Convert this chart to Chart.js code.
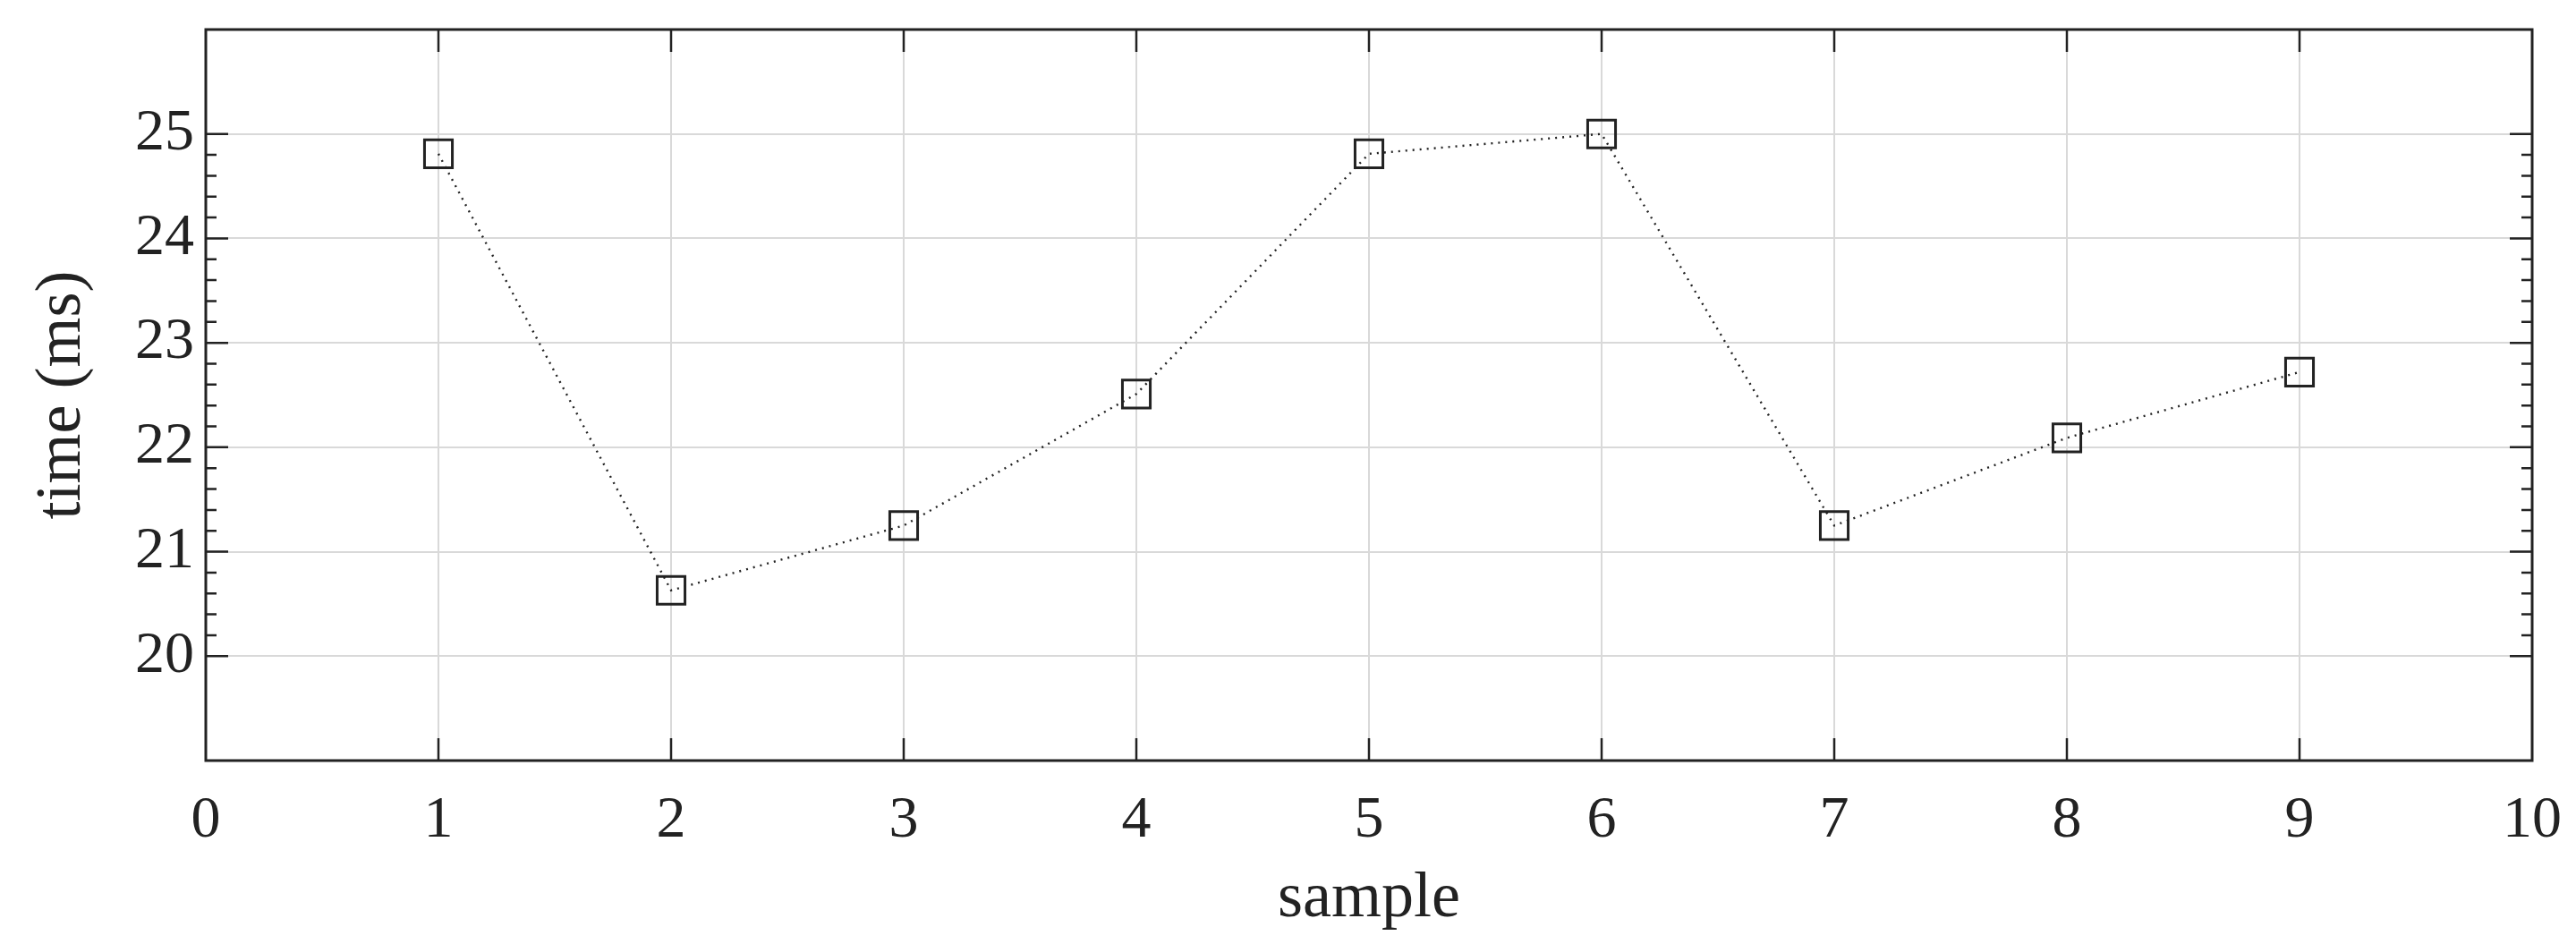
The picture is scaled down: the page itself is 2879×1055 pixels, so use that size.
<!DOCTYPE html>
<html>
<head>
<meta charset="utf-8">
<script src="https://cdn.jsdelivr.net/npm/chart.js@4/dist/chart.umd.min.js"></script>
<style>
  html, body { margin: 0; padding: 0; background: #fff; }
  #wrap { width: 2879px; height: 1055px; }
</style>
</head>
<body>
<div id="wrap"><canvas id="timeChart" width="2879" height="1055"></canvas></div>
<script>
// sample index and measured time (ms)
const samples = [1, 2, 3, 4, 5, 6, 7, 8, 9];
const times = [24.81, 20.63, 21.25, 22.51, 24.81, 25.0, 21.25, 22.09, 22.72];

const yMajorTicks = [20, 21, 22, 23, 24, 25];
const xMajorTicks = [1, 2, 3, 4, 5, 6, 7, 8, 9];

const ink = '#222';
const serif = '"Liberation Serif", "DejaVu Serif", serif';

// draws the axis box plus the inward tick marks (matlab style)
const boxTicks = {
  id: 'boxTicks',
  afterDraw(chart) {
    const { ctx, chartArea: a, scales } = chart;
    const x = scales.x, y = scales.y;
    ctx.save();
    ctx.strokeStyle = ink;
    ctx.lineWidth = 2.5;
    ctx.beginPath();

    yMajorTicks.forEach(v => {
      const py = y.getPixelForValue(v);
      ctx.moveTo(a.left, py); ctx.lineTo(a.left + 25, py);
      ctx.moveTo(a.right, py); ctx.lineTo(a.right - 25, py);
    });
    // minor ticks every 0.2 between the labelled ones
    for (let i = 0; i < yMajorTicks.length - 1; i++) {
      for (let k = 1; k < 5; k++) {
        const py = y.getPixelForValue(yMajorTicks[i] + k * 0.2);
        ctx.moveTo(a.left, py); ctx.lineTo(a.left + 12, py);
        ctx.moveTo(a.right, py); ctx.lineTo(a.right - 12, py);
      }
    }
    xMajorTicks.forEach(v => {
      const px = x.getPixelForValue(v);
      ctx.moveTo(px, a.bottom); ctx.lineTo(px, a.bottom - 25);
      ctx.moveTo(px, a.top); ctx.lineTo(px, a.top + 25);
    });
    ctx.stroke();

    ctx.lineWidth = 3;
    ctx.strokeRect(a.left, a.top, a.right - a.left, a.bottom - a.top);
    ctx.restore();
  }
};

const ctx = document.getElementById('timeChart').getContext('2d');

new Chart(ctx, {
  type: 'line',
  data: {
    datasets: [{
      label: 'time',
      data: samples.map((s, i) => ({ x: s, y: times[i] })),
      borderColor: ink,
      borderWidth: 2.4,
      borderDash: [2, 6],
      pointStyle: 'rect',
      pointRadius: 22,
      pointBorderWidth: 3,
      pointBorderColor: ink,
      pointBackgroundColor: 'rgba(0,0,0,0)',
      fill: false,
      tension: 0
    }]
  },
  options: {
    responsive: false,
    animation: false,
    layout: { padding: { left: 0, right: 49, top: 33, bottom: 0 } },
    plugins: {
      legend: { display: false },
      tooltip: { enabled: false }
    },
    scales: {
      x: {
        type: 'linear',
        min: 0,
        max: 10,
        afterFit(scale) {
          scale.height = 205;
          scale.paddingLeft = 0;
          scale.paddingRight = 0;
        },
        ticks: {
          stepSize: 1,
          padding: 28,
          color: ink,
          font: { family: serif, size: 66 }
        },
        grid: { color: '#d9d9d9', lineWidth: 2, drawTicks: false },
        border: { display: false },
        title: {
          display: true,
          text: 'sample',
          color: ink,
          font: { family: serif, size: 72 },
          padding: { top: 0, bottom: 7 }
        }
      },
      y: {
        type: 'linear',
        min: 19,
        max: 26,
        afterFit(scale) {
          scale.width = 230;
          scale.paddingTop = 0;
          scale.paddingBottom = 0;
        },
        ticks: {
          stepSize: 1,
          padding: 13,
          color: ink,
          font: { family: serif, size: 66 },
          callback: v => yMajorTicks.includes(v) ? String(v) : ''
        },
        grid: {
          color: c => yMajorTicks.includes(c.tick.value) ? '#d9d9d9' : 'rgba(0,0,0,0)',
          lineWidth: 2,
          drawTicks: false
        },
        border: { display: false },
        title: {
          display: true,
          text: 'time (ms)',
          color: ink,
          font: { family: serif, size: 72 },
          padding: { top: 27, bottom: 0 }
        }
      }
    }
  },
  plugins: [boxTicks]
});
</script>
</body>
</html>
